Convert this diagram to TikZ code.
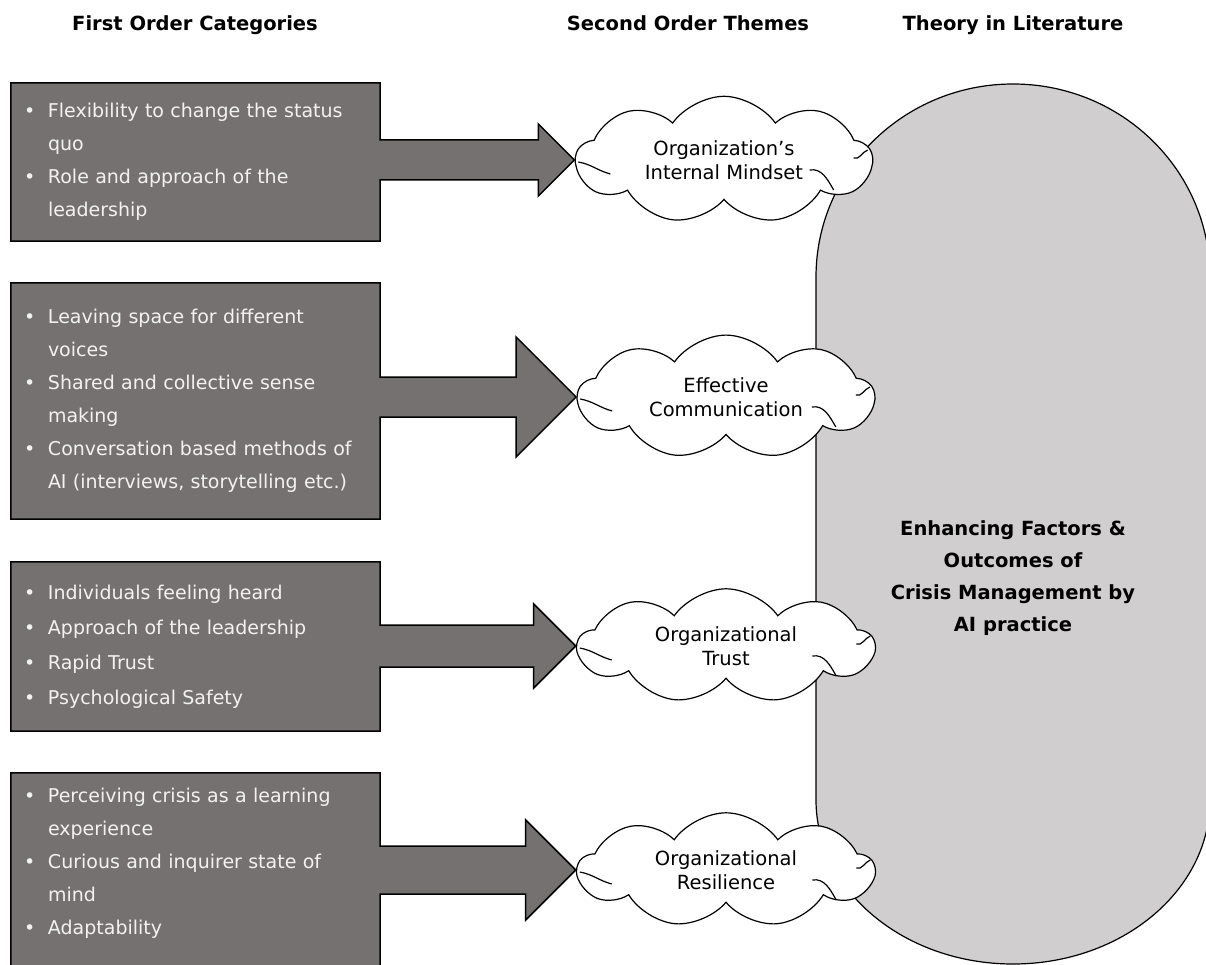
\documentclass[tikz,border=0pt]{standalone}
\usepackage{fontspec}
\setmainfont{DejaVu Sans}
\usetikzlibrary{calc}
\usetikzlibrary{shapes.symbols}
\usetikzlibrary{backgrounds}
\definecolor{boxgray}{HTML}{767171}
\definecolor{ovalgray}{HTML}{D0CECE}
\definecolor{boxtext}{HTML}{F2F2F2}
\newcommand{\bul}{\makebox[24pt][l]{\textbullet}}
\newcommand{\cnt}{\hspace*{24pt}}

\begin{document}
\begin{tikzpicture}[x=1pt,y=-1pt,
  head/.style={anchor=base, font=\fontsize{19.5}{24}\selectfont\bfseries},
  catbox/.style={text=boxtext, align=left, text width=343pt, inner xsep=13pt, inner ysep=0pt, minimum width=369pt, font=\fontsize{19}{33}\selectfont},
  theme/.style={cloud, cloud puffs=9, cloud puff arc=110, aspect=2.4, draw=black, line width=1.2pt, fill=white, minimum width=296pt, minimum height=112pt, inner sep=0pt, align=center, font=\fontsize{19.5}{24}\selectfont},
  catshape/.style={draw=black, line width=1.5pt, fill=boxgray}]
\useasboundingbox (0,0) rectangle (1206,965);

\node[head] (h1) at (195,31) {First Order Categories};
\node[head] (h2) at (688,31) {Second Order Themes};
\node[head] (h3) at (1013,31) {Theory in Literature};

\node[catbox, minimum height=158pt] (b1) at (195.5,162) {\bul Flexibility to change the status\\ \cnt quo\\ \bul Role and approach of the\\ \cnt leadership};
\node[catbox, minimum height=236pt] (b2) at (195.5,401) {\bul Leaving space for different\\ \cnt voices\\ \bul Shared and collective sense\\ \cnt making\\ \bul Conversation based methods of\\ \cnt AI (interviews, storytelling etc.)};
\node[catbox, minimum height=169pt, font=\fontsize{19}{35}\selectfont] (b3) at (195.5,646.5) {\bul Individuals feeling heard\\ \bul Approach of the leadership\\ \bul Rapid Trust\\ \bul Psychological Safety};
\node[catbox, minimum height=180pt] (b4) at (195.5,863) {\bul Perceiving crisis as a learning\\ \cnt experience\\ \bul Curious and inquirer state of\\ \cnt mind\\ \bul Adaptability};

\node[theme] (c1) at (724,160) {Organization’s\\Internal Mindset};
\node[theme] (c2) at (726,397) {Effective\\Communication};
\node[theme] (c3) at (726,646) {Organizational\\Trust};
\node[theme] (c4) at (726,870) {Organizational\\Resilience};

\node[head, anchor=center, align=center, font=\fontsize{19.5}{32}\selectfont\bfseries] (t1) at (1013,578) {Enhancing Factors \&\\Outcomes of\\Crisis Management by\\AI practice};

\foreach \n in {1,...,4} {
  \draw[line width=1.2pt] ($(c\n.west)+(4,2)$) to[out=-10, in=165] ($(c\n.west)+(36,14)$);
  \draw[line width=1.2pt] ($(c\n.east)+(-64,10)$) to[out=10, in=120] ($(c\n.east)+(-40,30)$);
  \draw[line width=1.2pt] ($(c\n.east)+(-20,-2)$) to[out=-20, in=200] ($(c\n.east)+(-6,-10)$);
}

\begin{scope}[on background layer]
\draw[line width=1.2pt, fill=ovalgray] (816,277) arc[start angle=180, end angle=360, x radius=197, y radius=193] -- (1210,800) arc[start angle=0, end angle=180, x radius=197, y radius=164] -- cycle;
\foreach \n/\h/\H/\e in {1/20/36/0, 2/20/60/0, 3/21/42/0, 4/24/50/20} {
  \draw[catshape] (b\n.north west) -- (b\n.north east)
    -- ($(b\n.east |- c\n.west)+(0,-\h)$) -- ($(c\n.west)+(-\H,-\h)$)
    -- ($(c\n.west)+(-\H,-\H)$) -- (c\n.west) -- ($(c\n.west)+(-\H,\H)$)
    -- ($(c\n.west)+(-\H,\h)$) -- ($(b\n.east |- c\n.west)+(0,\h)$)
    -- ($(b\n.south east)+(0,\e)$) -- ($(b\n.south west)+(0,\e)$) -- cycle;
}
\end{scope}
\end{tikzpicture}
\end{document}
